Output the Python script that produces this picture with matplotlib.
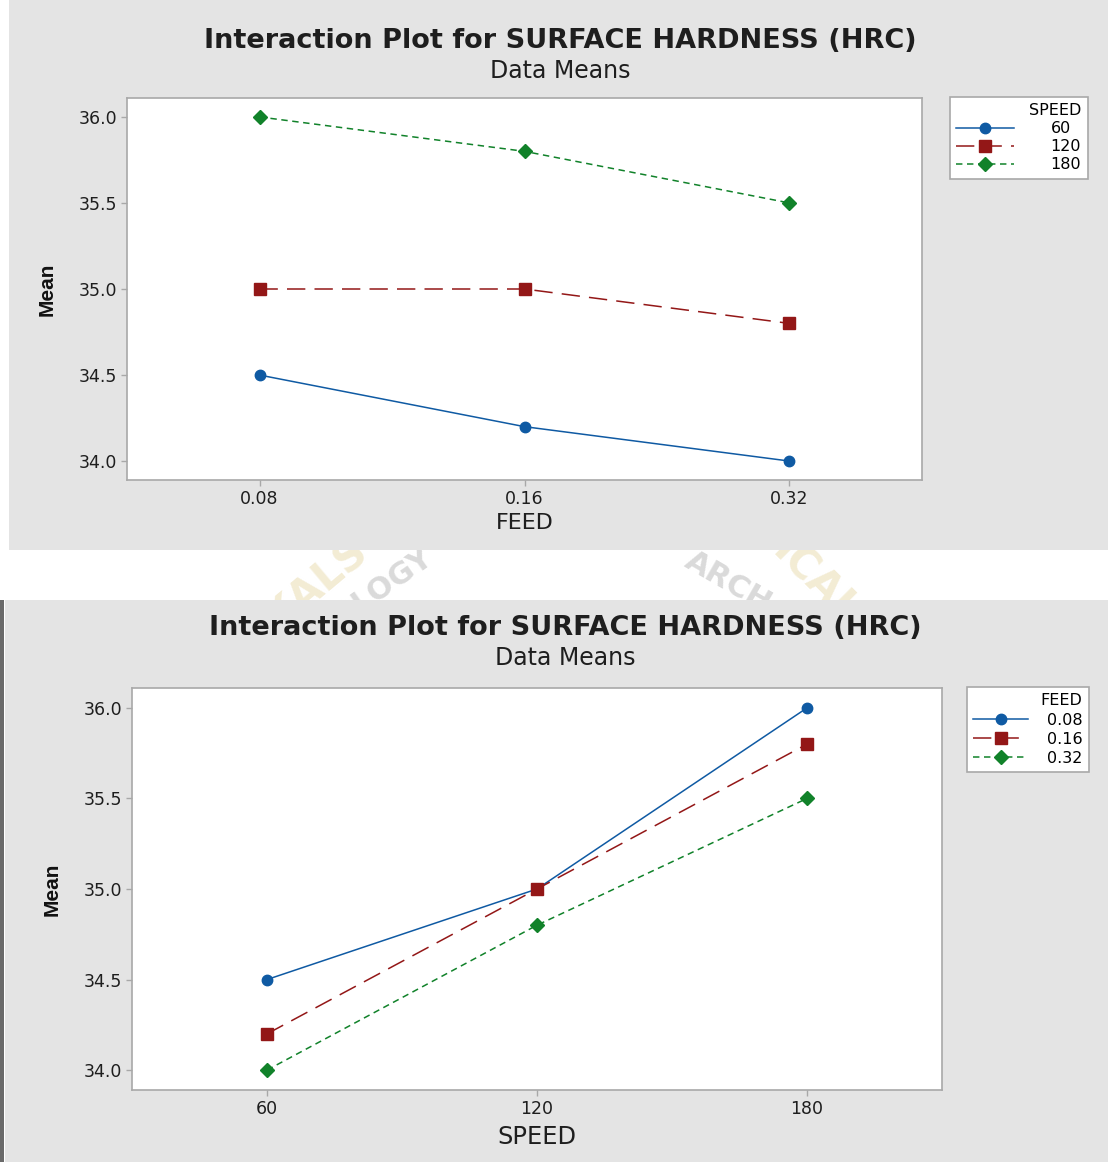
import matplotlib.pyplot as plt
from matplotlib.patches import Rectangle

plt.rcParams["font.family"] = ["DejaVu Sans"]

# main effects data
FEED_LEVELS = ["0.08", "0.16", "0.32"]
SPEED_LEVELS = ["60", "120", "180"]
# mean hardness per speed (one list per speed) across feed levels
MEAN_SPEED_60 = [34.5, 34.2, 34.0]
MEAN_SPEED_120 = [35.0, 35.0, 34.8]
MEAN_SPEED_180 = [36.0, 35.8, 35.5]
# mean hardness per feed across speed levels
MEAN_FEED_008 = [34.5, 35.0, 36.0]
MEAN_FEED_016 = [34.2, 35.0, 35.8]
MEAN_FEED_032 = [34.0, 34.8, 35.5]
Y_TICKS = [34.0, 34.5, 35.0, 35.5, 36.0]

TITLE = "Interaction Plot for SURFACE HARDNESS (HRC)"
SUBTITLE = "Data Means"

W, H = 1108, 1162
BLUE = "#0f5aa3"
RED = "#931717"
GREEN = "#11822a"
PANEL_BG = "#e4e4e4"
SPINE = "#a8a8a8"
TXT = "#1e1e1e"

STYLES = [
    dict(color=BLUE, marker="o", ls="-", ms=7.5),
    dict(color=RED, marker="s", dashes=(12, 6), ms=8),
    dict(color=GREEN, marker="D", dashes=(4.2, 3), ms=7),
]


def px_box(x0, y0, x1, y1):
    # pixel box (top-left origin) -> figure fraction rect
    return [x0 / W, 1 - y1 / H, (x1 - x0) / W, (y1 - y0) / H]


def add_rect(fig, x0, y0, x1, y1, color, z=-10):
    fig.add_artist(Rectangle((x0 / W, 1 - y1 / H), (x1 - x0) / W, (y1 - y0) / H,
                             transform=fig.transFigure, facecolor=color,
                             edgecolor="none", zorder=z))


def draw_panel(fig, panel, axbox, levels, series, series_names, legend_title, xlabel,
               title_xy, legend_xy, xlabel_off, ylabel_x, xlabel_fs, leg_handle, leg_pad,
               leg_space):
    add_rect(fig, *panel, PANEL_BG)
    ax = fig.add_axes(px_box(*axbox))
    ax.set_facecolor("white")

    xs = range(len(levels))
    for vals, name, st in zip(series, series_names, STYLES):
        ax.plot(xs, vals, lw=1.1, label=name, **st)

    ax.set_xlim(-0.5, 2.5)
    ax.set_ylim(33.89, 36.11)
    ax.set_xticks(list(xs))
    ax.set_xticklabels(levels)
    ax.set_yticks(Y_TICKS)
    ax.set_yticklabels([f"{v:.1f}" for v in Y_TICKS])
    ax.tick_params(length=4, width=1, color=SPINE, labelsize=12.5, pad=3, labelcolor=TXT)
    for s in ax.spines.values():
        s.set_color(SPINE)
        s.set_linewidth(1.2)

    ax_w = axbox[2] - axbox[0]
    ax_h = axbox[3] - axbox[1]
    ax.set_xlabel(xlabel, fontsize=xlabel_fs, color=TXT)
    ax.xaxis.set_label_coords(0.5, -xlabel_off / ax_h)
    ax.xaxis.label.set_va("center")
    ax.set_ylabel("Mean", fontsize=15, fontweight="bold", color="#111111",
                  family=["Liberation Sans", "DejaVu Sans"])
    ax.yaxis.set_label_coords(-(axbox[0] - ylabel_x) / ax_w, 0.5)
    ax.yaxis.label.set_va("center")

    tx, ty = title_xy
    fig.text(tx / W, 1 - ty / H, TITLE, ha="center", va="center",
             fontsize=19.5, fontweight="bold", color=TXT)
    fig.text(tx / W, 1 - (ty + 30) / H, SUBTITLE, ha="center", va="center",
             fontsize=17, color=TXT)

    lx, ly = legend_xy
    leg = ax.legend(loc="upper left", bbox_to_anchor=(lx / W, 1 - ly / H),
                    bbox_transform=fig.transFigure, title=legend_title,
                    fontsize=11.5, title_fontsize=11.5, alignment="right",
                    handlelength=leg_handle, handletextpad=leg_pad, labelspacing=leg_space,
                    borderpad=0.4, borderaxespad=0, fancybox=False, framealpha=1,
                    edgecolor=SPINE)
    leg.get_frame().set_linewidth(1.2)
    return ax


fig = plt.figure(figsize=(W / 100, H / 100), dpi=100)
fig.patch.set_facecolor("white")

# faint watermark showing in the gap between the two screenshots
WATERMARK = [("KALS", 316, 584, 40, "#f3ecd4", 30), ("OLOGY", 382, 588, 35, "#dadada", 22),
             ("ARCH", 728, 582, -30, "#dadada", 22), ("ICAL", 815, 582, -45, "#f3ecd4", 30)]
for word, wx, wy, rot, col, wfs in WATERMARK:
    fig.text(wx / W, 1 - wy / H, word, ha="center", va="center", rotation=rot,
             color=col, fontsize=wfs, fontweight="bold", zorder=-20)

# top panel: mean vs FEED, grouped by SPEED
draw_panel(fig, (9, 0, 1108, 550), (127, 98, 922, 480), FEED_LEVELS,
           [MEAN_SPEED_60, MEAN_SPEED_120, MEAN_SPEED_180], SPEED_LEVELS,
           "SPEED", "FEED", (560, 41), (950, 97), 43, 47, 16, 3.6, 2.3, 0.19)

# bottom panel: mean vs SPEED, grouped by FEED
draw_panel(fig, (5, 600, 1108, 1162), (132, 688, 942, 1090), SPEED_LEVELS,
           [MEAN_FEED_008, MEAN_FEED_016, MEAN_FEED_032], FEED_LEVELS,
           "FEED", "SPEED", (565, 628), (967, 687), 47, 52, 17.4, 3.4, 1.2, 0.26)

# dark frame edge on the left of the lower screenshot
add_rect(fig, 0, 600, 4, 1162, "#6a6a6a")

fig.savefig("out.png", dpi=100)
